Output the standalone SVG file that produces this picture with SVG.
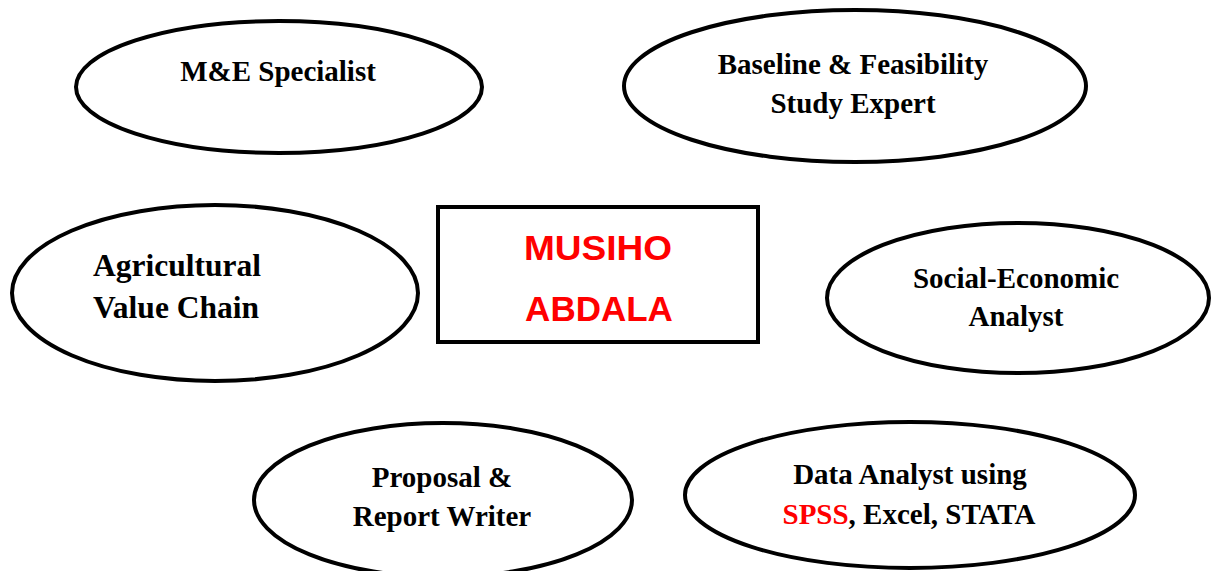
<svg xmlns="http://www.w3.org/2000/svg" width="1211" height="571" viewBox="0 0 1211 571">
<style>
.shape{fill:#fff;stroke:#000;stroke-width:4}
.t{font-family:"Liberation Serif","Times New Roman",serif;font-weight:bold;font-size:29px;fill:#000}
.big{font-size:31.5px}
.c{text-anchor:middle}
.red{fill:#FF0000}
.name{font-family:"Liberation Sans",Arial,sans-serif;font-weight:bold;font-size:35px;fill:#FF0000;text-anchor:middle}
</style>
<rect width="1211" height="571" fill="#fff"/>
<g id="connectors"></g>
<g id="node-me">
<ellipse class="shape" cx="279" cy="87" rx="203" ry="66"/>
<text class="t c" x="278" y="81">M&amp;E Specialist</text>
</g>
<g id="node-baseline">
<ellipse class="shape" cx="855" cy="86" rx="231" ry="76"/>
<text class="t c" x="853" y="74">Baseline &amp; Feasibility</text>
<text class="t c" x="853" y="113">Study Expert</text>
</g>
<g id="node-agri">
<ellipse class="shape" cx="215" cy="293" rx="203" ry="88"/>
<text class="t big" x="93" y="276">Agricultural</text>
<text class="t big" x="93" y="318">Value Chain</text>
</g>
<g id="node-center">
<rect class="shape" x="438" y="207" width="320" height="135"/>
<text class="name" x="598" y="260" textLength="148" lengthAdjust="spacingAndGlyphs">MUSIHO</text>
<text class="name" x="599" y="321">ABDALA</text>
</g>
<g id="node-social">
<ellipse class="shape" cx="1018" cy="298" rx="191" ry="75"/>
<text class="t c" x="1016" y="288">Social-Economic</text>
<text class="t c" x="1016" y="326">Analyst</text>
</g>
<g id="node-proposal">
<ellipse class="shape" cx="443" cy="500" rx="189" ry="77"/>
<text class="t c" x="442" y="487">Proposal &amp;</text>
<text class="t c" x="442" y="526">Report Writer</text>
</g>
<g id="node-data">
<ellipse class="shape" cx="910" cy="495" rx="225" ry="73"/>
<text class="t c" x="910" y="484">Data Analyst using</text>
<text class="t c" x="909" y="524"><tspan class="red">SPSS</tspan>, Excel, STATA</text>
</g>
</svg>
